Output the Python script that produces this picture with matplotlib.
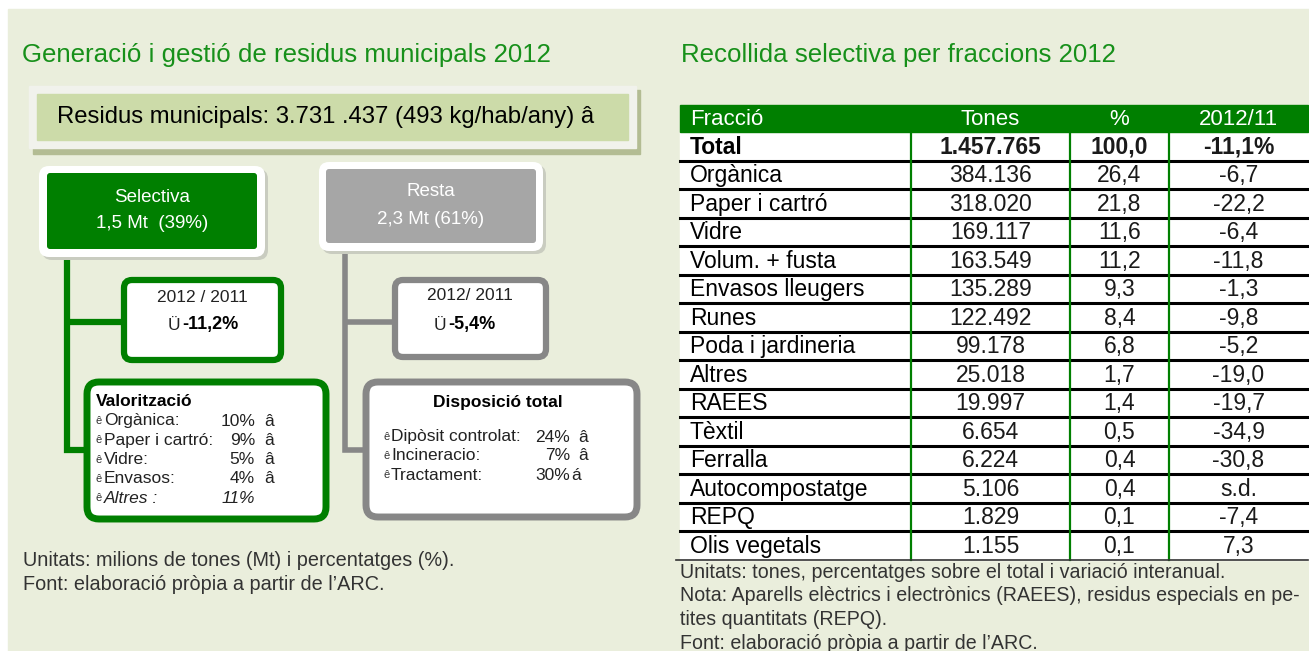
import matplotlib
matplotlib.use('Agg')
import matplotlib.pyplot as plt
from matplotlib.patches import FancyBboxPatch, Rectangle

# ---- left panel data ----
total_text = 'Residus municipals: 3.731 .437 (493 kg/hab/any) â'
selectiva = ['Selectiva', '1,5 Mt  (39%)']
resta = ['Resta', '2,3 Mt (61%)']
sel_change = '-11,2%'
resta_change = '-5,4%'
valor_items = ['Orgànica:', 'Paper i cartró:', 'Vidre:', 'Envasos:', 'Altres :']
valor_pct = ['10%', '9%', '5%', '4%', '11%']
valor_arrow = ['â', 'â', 'â', 'â', '']
disp_items = ['Dipòsit controlat:', 'Incineracio:', 'Tractament:']
disp_pct = ['24%', '7%', '30%']
disp_arrow = ['â', 'â', 'á']

# ---- right panel data ----
fraccions = ['Total', 'Orgànica', 'Paper i cartró', 'Vidre', 'Volum. + fusta',
             'Envasos lleugers', 'Runes', 'Poda i jardineria', 'Altres', 'RAEES',
             'Tèxtil', 'Ferralla', 'Autocompostatge', 'REPQ', 'Olis vegetals']
tones = [1457765, 384136, 318020, 169117, 163549, 135289, 122492, 99178,
         25018, 19997, 6654, 6224, 5106, 1829, 1155]
percent = [100.0, 26.4, 21.8, 11.6, 11.2, 9.3, 8.4, 6.8, 1.7, 1.4, 0.5, 0.4, 0.4, 0.1, 0.1]
variacio = [-11.1, -6.7, -22.2, -6.4, -11.8, -1.3, -9.8, -5.2, -19.0, -19.7,
            -34.9, -30.8, None, -7.4, 7.3]

GREEN = '#007F00'
TITLE_GREEN = '#17901A'
GRAY = '#878787'
BG = '#EAEEDC'
plt.rcParams['font.family'] = ['Liberation Sans', 'DejaVu Sans']

W, H = 1309, 651
fig = plt.figure(figsize=(W / 100, H / 100), dpi=100)
ax = fig.add_axes([0, 0, 1, 1])
ax.set_xlim(0, W)
ax.set_ylim(H, 0)
ax.axis('off')

ax.add_patch(Rectangle((8, 9), W - 8, H - 9, color=BG, zorder=0))


def rbox(x0, y0, x1, y1, fc, ec='none', lw=0, r=8, z=2):
    ax.add_patch(FancyBboxPatch((x0, y0), x1 - x0, y1 - y0,
                                boxstyle=f'round,pad=0,rounding_size={r}',
                                fc=fc, ec=ec, lw=lw, zorder=z))


# ================= LEFT =================
ax.text(22, 55, 'Generació i gestió de residus municipals 2012', color=TITLE_GREEN,
        fontsize=18.6, va='center', ha='left')

ax.add_patch(Rectangle((33, 90), 607, 64, color='#B3BC93', zorder=1))
ax.add_patch(Rectangle((29, 86), 607, 62, color='#F1F2EC', zorder=2))
ax.add_patch(Rectangle((37, 94), 591, 46, color='#CCDBA9', zorder=3))
ax.text(57, 117, total_text, fontsize=17.2, va='center', ha='left', color='black', zorder=4)

# connector lines
ax.plot([67, 67, 86], [257, 450, 450], color=GREEN, lw=4.5, solid_capstyle='butt',
        solid_joinstyle='miter', zorder=1)
ax.plot([67, 123], [322, 322], color=GREEN, lw=4.5, solid_capstyle='butt', zorder=1)
ax.plot([345, 345, 365], [251, 450, 450], color=GRAY, lw=4, solid_capstyle='butt',
        solid_joinstyle='miter', zorder=1)
ax.plot([345, 394], [322, 322], color=GRAY, lw=4, solid_capstyle='butt', zorder=1)

# top boxes
rbox(42, 169, 268, 260, '#C9CCC0', r=10, z=2)
rbox(39, 166, 265, 257, 'white', r=10, z=3)
rbox(47, 173, 257, 249, GREEN, r=3, z=4)
ax.text(152, 197, selectiva[0], color='white', fontsize=13.5, ha='center', va='center', zorder=5)
ax.text(152, 224, selectiva[1], color='white', fontsize=13.5, ha='center', va='center', zorder=5)

rbox(322, 165, 546, 254, '#C9CCC0', r=10, z=2)
rbox(319, 162, 543, 251, 'white', r=10, z=3)
rbox(326, 169, 536, 243, '#A6A6A6', r=3, z=4)
ax.text(431, 192, resta[0], color='white', fontsize=13.5, ha='center', va='center', zorder=5)
ax.text(431, 220, resta[1], color='white', fontsize=13.5, ha='center', va='center', zorder=5)

# variation boxes
rbox(124, 280, 281, 360, 'white', ec=GREEN, lw=4.5, r=8)
ax.text(202, 297, '2012 / 2011', fontsize=12.5, ha='center', va='center', color='#222222', zorder=5)
ax.text(180, 325, 'Ü', fontsize=12.5, ha='right', va='center', color='#222222', zorder=5)
ax.text(182, 325, sel_change, fontsize=13, fontweight='bold', ha='left', va='center', zorder=5)

rbox(395, 280, 546, 357, 'white', ec=GRAY, lw=4.5, r=8)
ax.text(470, 296, '2012/ 2011', fontsize=12.5, ha='center', va='center', color='#222222', zorder=5)
ax.text(446, 325, 'Ü', fontsize=12.5, ha='right', va='center', color='#222222', zorder=5)
ax.text(448, 325, resta_change, fontsize=13, fontweight='bold', ha='left', va='center', zorder=5)

# valoritzacio box
rbox(87, 382, 326, 519, 'white', ec=GREEN, lw=5, r=12)
ax.text(96, 401, 'Valorització', fontsize=12.5, fontweight='bold', ha='left', va='center', zorder=5)
for i, (lab, p, a) in enumerate(zip(valor_items, valor_pct, valor_arrow)):
    y = 421 + i * 19.3
    style = 'italic' if lab.startswith('Altres') else 'normal'
    ax.text(96, y, 'ê', fontsize=8, ha='left', va='center', color='#333333', zorder=5)
    ax.text(104, y, lab, fontsize=12.5, ha='left', va='center', style=style, color='#222222', zorder=5)
    ax.text(255, y, p, fontsize=12.5, ha='right', va='center', style=style, color='#222222', zorder=5)
    ax.text(264, y, a, fontsize=12.5, ha='left', va='center', color='#222222', zorder=5)

# disposicio box
rbox(366, 382, 637, 517, 'white', ec=GRAY, lw=5, r=12)
ax.text(498, 402, 'Disposició total', fontsize=12.5, fontweight='bold', ha='center', va='center', zorder=5)
for i, (lab, p, a) in enumerate(zip(disp_items, disp_pct, disp_arrow)):
    y = 437 + i * 19
    ax.text(383, y, 'ê', fontsize=8, ha='left', va='center', color='#333333', zorder=5)
    ax.text(391, y, lab, fontsize=12.5, ha='left', va='center', color='#222222', zorder=5)
    ax.text(570, y, p, fontsize=12.5, ha='right', va='center', color='#222222', zorder=5)
    ax.text(571 if a == 'á' else 578, y, a, fontsize=12.5, ha='left', va='center', color='#222222', zorder=5)

ax.text(23, 561, 'Unitats: milions de tones (Mt) i percentatges (%).', fontsize=14.3,
        ha='left', va='center', color='#333333')
ax.text(23, 585, 'Font: elaboració pròpia a partir de l\u2019ARC.', fontsize=14.3,
        ha='left', va='center', color='#333333')

# ================= RIGHT =================
ax.text(681, 55, 'Recollida selectiva per fraccions 2012', color=TITLE_GREEN,
        fontsize=18.6, va='center', ha='left')

x_left, x_c1, x_c2, x_c3, x_right = 680, 911, 1070, 1169, 1308
head_top, head_bot = 105, 132
row_h = 28.5

ax.add_patch(Rectangle((x_left, head_top), x_right - x_left, head_bot - head_top, color=GREEN, zorder=2))
hy = (head_top + head_bot) / 2 + 1
ax.text(690, hy, 'Fracció', color='white', fontsize=16, ha='left', va='center', zorder=3)
ax.text((x_c1 + x_c2) / 2, hy, 'Tones', color='white', fontsize=16, ha='center', va='center', zorder=3)
ax.text((x_c2 + x_c3) / 2, hy, '%', color='white', fontsize=16, ha='center', va='center', zorder=3)
ax.text((x_c3 + x_right) / 2, hy, '2012/11', color='white', fontsize=16, ha='center', va='center', zorder=3)

n = len(fraccions)
body_top = head_bot
body_bot = body_top + n * row_h
ax.add_patch(Rectangle((x_left, body_top), x_right - x_left, body_bot - body_top, color='white', zorder=1))

for i in range(n):
    y = body_top + (i + 0.5) * row_h + 1
    bold = 'bold' if i == 0 else 'normal'
    t = f'{tones[i]:,}'.replace(',', '.')
    p = f'{percent[i]:.1f}'.replace('.', ',')
    v = variacio[i]
    if v is None:
        vs = 's.d.'
    else:
        vs = f'{v:.1f}'.replace('.', ',') + ('%' if i == 0 else '')
    ax.text(690, y, fraccions[i], fontsize=16.5, ha='left', va='center', fontweight=bold, zorder=4)
    ax.text((x_c1 + x_c2) / 2, y, t, fontsize=16.5, ha='center', va='center', fontweight=bold,
            color='#1a1a1a', zorder=4)
    ax.text((x_c2 + x_c3) / 2, y, p, fontsize=16.5, ha='center', va='center', fontweight=bold,
            color='#1a1a1a', zorder=4)
    ax.text((x_c3 + x_right) / 2, y, vs, fontsize=16.5, ha='center', va='center', fontweight=bold,
            color='#1a1a1a', zorder=4)
    if i < n - 1:
        yl = body_top + (i + 1) * row_h
        ax.plot([x_left, x_right], [yl, yl], color='black', lw=2.2, zorder=3)

for xc in (x_c1, x_c2, x_c3):
    ax.plot([xc, xc], [body_top, body_bot], color=GREEN, lw=1.6, zorder=3)
ax.plot([676, x_right], [body_bot, body_bot], color='#333333', lw=1.2, zorder=3)

notes = ['Unitats: tones, percentatges sobre el total i variació interanual.',
         'Nota: Aparells elèctrics i electrònics (RAEES), residus especials en pe-',
         'tites quantitats (REPQ).',
         'Font: elaboració pròpia a partir de l\u2019ARC.']
for k, s in enumerate(notes):
    ax.text(680, 572 + k * 23.7, s, fontsize=14.1, ha='left', va='center', color='#333333')

fig.savefig('out.png', dpi=100)
